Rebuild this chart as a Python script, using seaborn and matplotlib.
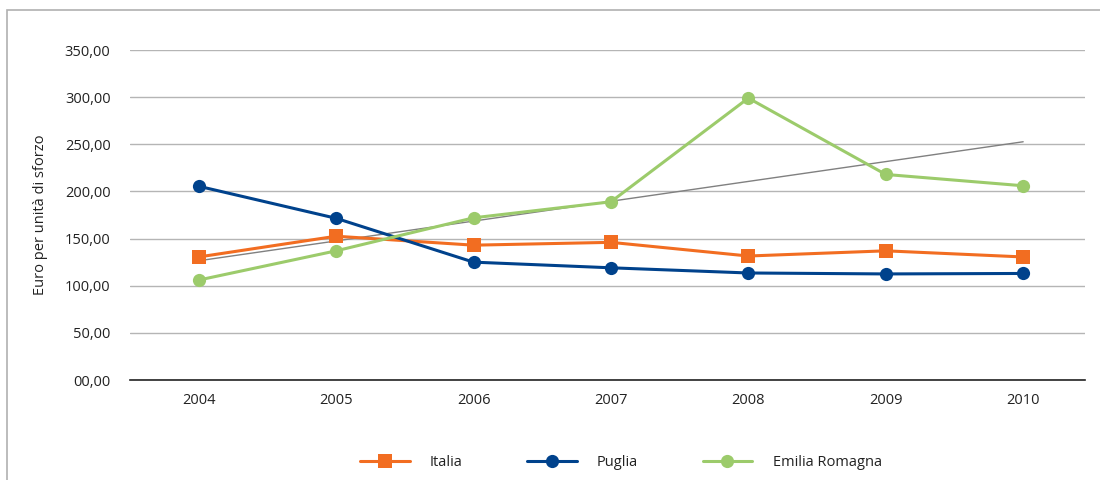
import numpy as np
import pandas as pd
import seaborn as sns
import matplotlib.pyplot as plt
from matplotlib.patches import Rectangle
from matplotlib.ticker import FuncFormatter

years = ['2004', '2005', '2006', '2007', '2008', '2009', '2010']
italia = [130.5, 152.5, 143.0, 146.0, 131.5, 137.0, 130.5]
puglia = [205.5, 171.5, 125.0, 119.0, 113.5, 112.5, 113.0]
emilia = [106.0, 137.0, 172.0, 189.0, 299.0, 218.0, 206.0]

series_names = ['Italia', 'Puglia', 'Emilia Romagna']
series_values = [italia, puglia, emilia]
colors = ['#f26d21', '#00428c', '#9ccb6b']
markers = ['s', 'o', 'o']

sns.set_style('white')
plt.rcParams['font.family'] = ['Open Sans', 'DejaVu Sans']

fig = plt.figure(figsize=(11, 4.8), dpi=100)
ax = fig.add_axes([130 / 1100, 1 - 380 / 480, 955 / 1100, 330 / 480])

pos = np.arange(len(years))

# linear trend of Emilia Romagna (gray thin line)
slope, intercept = np.polyfit(pos, emilia, 1)
sns.lineplot(x=pos, y=intercept + slope * pos, color='#808080', linewidth=1.0,
             ax=ax, zorder=2, legend=False)

for name, vals, c, m in zip(series_names, series_values, colors, markers):
    sns.lineplot(x=pos, y=vals, color=c, marker=m, markersize=9.5, markeredgewidth=0,
                 linewidth=2.2, ax=ax, label=name, zorder=3)

ax.set_xlim(-0.5, 6.45)
ax.set_ylim(0, 350)
ax.set_yticks(np.arange(0, 351, 50))
ax.yaxis.set_major_formatter(FuncFormatter(lambda v, p: f'{int(v):02d},00'))
ax.set_xticks(pos)
ax.set_xticklabels(years)
ax.tick_params(axis='both', length=0, labelsize=10.5, colors='#222222')
ax.tick_params(axis='y', pad=14)
ax.tick_params(axis='x', pad=9)
ax.grid(axis='y', color='#b5b5b5', linewidth=1.0)
ax.set_axisbelow(True)
for s in ['top', 'right', 'left']:
    ax.spines[s].set_visible(False)
ax.spines['bottom'].set_color('#222222')
ax.spines['bottom'].set_linewidth(1.2)
ax.set_xlabel('')
ax.set_ylabel('Euro per unità di sforzo', fontsize=10.5, color='#222222', labelpad=12)

handles, labels = ax.get_legend_handles_labels()
ax.legend(handles, labels, loc='center', bbox_to_anchor=(0.514, -0.25), ncol=3,
          frameon=False, fontsize=10.5, handlelength=3.4, columnspacing=4.4,
          handletextpad=1.4, labelcolor='#222222')

fig.patches.append(Rectangle((7 / 1100, -0.01), 1.1, 1 - 10 / 480 + 0.01,
                             transform=fig.transFigure, fill=False,
                             edgecolor='#b0b0b0', linewidth=1.2))

fig.savefig('out.png', dpi=100)
